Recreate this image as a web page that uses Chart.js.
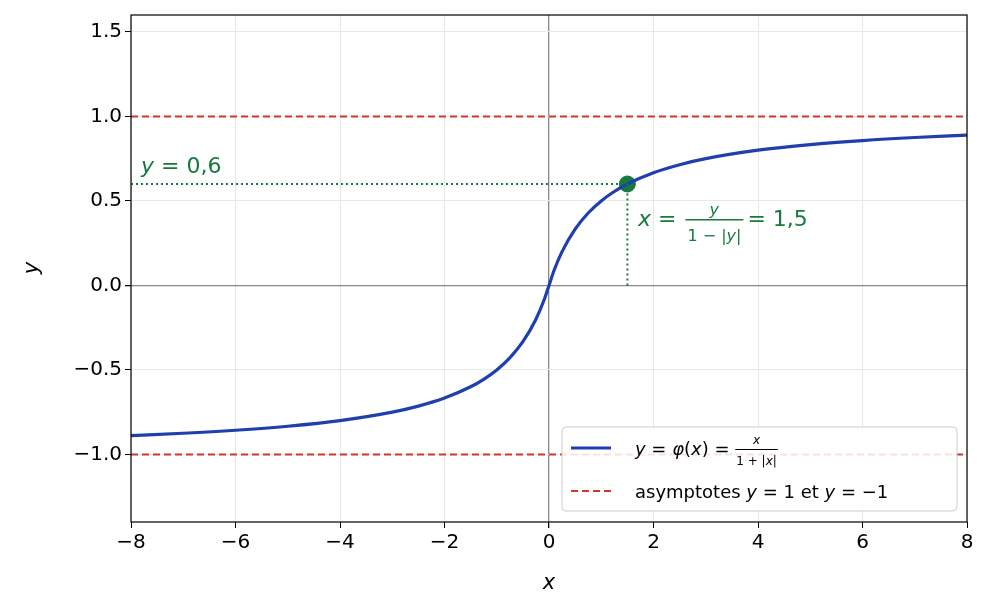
<!DOCTYPE html>
<html lang="fr">
<head>
<meta charset="UTF-8">
<script src="https://cdn.jsdelivr.net/npm/chart.js@4.4.1/dist/chart.umd.min.js"></script>
<style>
  html, body { margin: 0; padding: 0; background: #fff; }
  #wrap { width: 991px; height: 615px; }
</style>
</head>
<body>
<div id="wrap"><canvas id="c" width="991" height="615"></canvas></div>
<script>
// curve samples: y = x / (1 + |x|)
const curveX = [-8, -7, -6, -5, -4, -3, -2.5, -2, -1.5, -1.25, -1, -0.75, -0.5, -0.25, -0.1, 0,
  0.1, 0.25, 0.5, 0.75, 1, 1.25, 1.5, 2, 2.5, 3, 4, 5, 6, 7, 8];
const curveY = [-0.8889, -0.875, -0.8571, -0.8333, -0.8, -0.75, -0.7143, -0.6667, -0.6, -0.5556, -0.5, -0.4286, -0.3333, -0.2, -0.0909, 0,
  0.0909, 0.2, 0.3333, 0.4286, 0.5, 0.5556, 0.6, 0.6667, 0.7143, 0.75, 0.8, 0.8333, 0.8571, 0.875, 0.8889];
const xRange = [-8, 8];
const yRange = [-1.4, 1.6];
const asymptotes = [1, -1];
const marked = { x: 1.5, y: 0.6 };

const BLUE = '#1f3fae', RED = '#d0372a', GREEN = '#157a3c';
const FONT = 'DejaVu Sans';
const minus = v => String(v).replace('-', '\u2212');

const pts = curveX.map((x, i) => ({ x, y: curveY[i] }));

// write a run of [text, font] pieces left to right, returns end x
function run(ctx, x, y, parts) {
  parts.forEach(([t, f]) => { ctx.font = f; ctx.fillText(t, x, y); x += ctx.measureText(t).width; });
  return x;
}

// legend, frame, axis titles and annotation text drawn on the canvas
const extras = {
  id: 'extras',
  afterDraw(chart) {
    const { ctx, chartArea: a } = chart;
    const it = s => `italic ${s}px ${FONT}`, rm = s => `${s}px ${FONT}`;
    ctx.save();
    ctx.strokeStyle = '#000'; ctx.lineWidth = 1.2;
    ctx.strokeRect(a.left, a.top, a.right - a.left, a.bottom - a.top);

    // axis titles
    ctx.fillStyle = '#000'; ctx.textBaseline = 'alphabetic';
    ctx.font = it(21); ctx.textAlign = 'center';
    ctx.fillText('x', (a.left + a.right) / 2, 589);
    ctx.save(); ctx.translate(38, 268); ctx.rotate(-Math.PI / 2); ctx.fillText('y', 0, 0); ctx.restore();
    ctx.textAlign = 'left';

    ctx.fillStyle = GREEN;
    run(ctx, 141, 173, [['y', it(22)], [' = 0,6', rm(22)]]);

    // x = y / (1 - |y|) = 1,5
    const py = 226;
    const fx = run(ctx, 638, py, [['x', it(22)], [' = ', rm(22)]]) + 2;
    const denEnd = run(ctx, fx + 2, py + 15, [['1 \u2212 |', rm(16)], ['y', it(16)], ['|', rm(16)]]);
    ctx.font = it(16); ctx.fillText('y', (fx + denEnd) / 2 - 4, py - 11);
    ctx.fillRect(fx, py - 7, denEnd - fx + 2, 1.5);
    run(ctx, denEnd + 6, py, [['= 1,5', rm(22)]]);

    // legend box
    const lx = 562, ly = 427, lw = 395, lh = 84;
    ctx.fillStyle = 'rgba(255,255,255,0.85)';
    ctx.strokeStyle = '#ccc'; ctx.lineWidth = 1;
    ctx.beginPath(); ctx.roundRect(lx, ly, lw, lh, 4); ctx.fill(); ctx.stroke();
    ctx.lineWidth = 3; ctx.strokeStyle = BLUE;
    ctx.beginPath(); ctx.moveTo(571, 448); ctx.lineTo(611, 448); ctx.stroke();
    ctx.lineWidth = 2; ctx.strokeStyle = RED; ctx.setLineDash([7, 4]);
    ctx.beginPath(); ctx.moveTo(571, 491); ctx.lineTo(611, 491); ctx.stroke();
    ctx.setLineDash([]);
    ctx.fillStyle = '#000';
    const lfx = run(ctx, 635, 455, [['y', it(18)], [' = ', rm(18)], ['\u03c6', it(18)], ['(', rm(18)], ['x', it(18)], [') = ', rm(18)]]);
    const lden = run(ctx, lfx + 1, 465, [['1 + |', rm(12)], ['x', it(12)], ['|', rm(12)]]);
    ctx.font = it(12); ctx.fillText('x', (lfx + lden) / 2 - 3, 444);
    ctx.fillRect(lfx, 449, lden - lfx + 1, 1);
    run(ctx, 635, 498, [['asymptotes ', rm(18)], ['y', it(18)], [' = 1 et ', rm(18)], ['y', it(18)], [' = \u22121', rm(18)]]);
    ctx.restore();
  }
};

const gridColor = c => c.tick.value === 0 ? '#888' : '#e8e8e8';
const gridWidth = c => c.tick.value === 0 ? 1.3 : 1;

new Chart(document.getElementById('c'), {
  type: 'line',
  data: {
    datasets: [
      ...asymptotes.map(v => ({
        data: xRange.map(x => ({ x, y: v })),
        borderColor: RED, borderWidth: 2, borderDash: [7, 4], pointRadius: 0
      })),
      { data: [{ x: xRange[0], y: marked.y }, marked], borderColor: GREEN, borderWidth: 2, borderDash: [2, 3], pointRadius: 0 },
      { data: [{ x: marked.x, y: 0 }, marked], borderColor: GREEN, borderWidth: 2, borderDash: [2, 3], pointRadius: 0 },
      { data: pts, borderColor: BLUE, borderWidth: 3.2, pointRadius: 0, cubicInterpolationMode: 'monotone' },
      { data: [marked], borderColor: GREEN, backgroundColor: GREEN, pointRadius: 8, showLine: false }
    ]
  },
  options: {
    responsive: false, animation: false, parsing: false,
    layout: { padding: { top: 15, right: 24, left: 0, bottom: 0 } },
    plugins: { legend: { display: false }, tooltip: { enabled: false } },
    scales: {
      x: {
        type: 'linear', min: xRange[0], max: xRange[1],
        ticks: { stepSize: 2, color: '#000', font: { family: FONT, size: 20 }, callback: v => minus(v) },
        grid: { color: gridColor, lineWidth: gridWidth, tickLength: 6, tickColor: '#000' },
        border: { display: false },
        afterFit: s => { s.height = 93; }
      },
      y: {
        type: 'linear', min: yRange[0], max: yRange[1],
        afterBuildTicks: s => { s.ticks = [-1, -0.5, 0, 0.5, 1, 1.5].map(value => ({ value })); },
        ticks: { color: '#000', font: { family: FONT, size: 20 }, callback: v => minus(v.toFixed(1)) },
        grid: { color: gridColor, lineWidth: gridWidth, tickLength: 6, tickColor: '#000' },
        border: { display: false },
        afterFit: s => { s.width = 131; }
      }
    }
  },
  plugins: [extras]
});
</script>
</body>
</html>
